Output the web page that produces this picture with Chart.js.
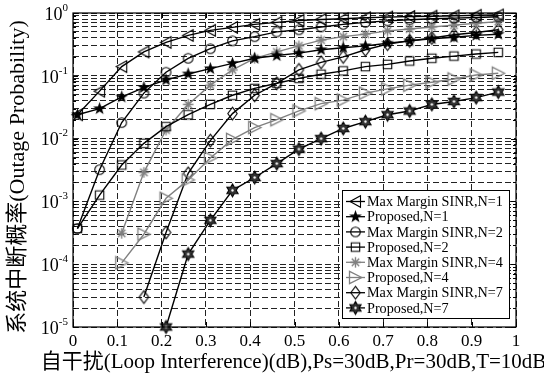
<!DOCTYPE html>
<html>
<head>
<meta charset="utf-8">
<script src="https://cdn.jsdelivr.net/npm/chart.js"></script>
<style>
  html, body { margin: 0; padding: 0; background: #fff; }
  canvas { display: block; }
</style>
</head>
<body>
<canvas id="myChart" width="544" height="377"></canvas>
<script>
// x: loop interference (dB)
const loopInterference = [0.01, 0.06, 0.11, 0.16, 0.21, 0.26, 0.31, 0.36, 0.41, 0.46,
                          0.51, 0.56, 0.61, 0.66, 0.71, 0.76, 0.81, 0.86, 0.91, 0.96];

// outage probability (null = no point)
const maxMarginN1 = [0.024, 0.057, 0.14, 0.24, 0.34, 0.44, 0.53, 0.59, 0.66, 0.71,
                     0.76, 0.79, 0.81, 0.84, 0.86, 0.88, 0.89, 0.90, 0.92, 0.93];
const proposedN1  = [0.024, 0.030, 0.046, 0.065, 0.086, 0.107, 0.13, 0.158, 0.19, 0.21,
                     0.23, 0.26, 0.28, 0.30, 0.33, 0.36, 0.39, 0.41, 0.44, 0.46];
const maxMarginN2 = [0.00037, 0.0032, 0.018, 0.053, 0.114, 0.19, 0.27, 0.36, 0.42, 0.50,
                     0.54, 0.60, 0.66, 0.71, 0.75, 0.78, 0.81, 0.83, 0.85, 0.87];
const proposedN2  = [0.00037, 0.00126, 0.0038, 0.0084, 0.0155, 0.024, 0.035, 0.049, 0.063, 0.076,
                     0.091, 0.106, 0.12, 0.14, 0.152, 0.172, 0.19, 0.206, 0.222, 0.236];
const maxMarginN4 = [null, null, 0.00031, 0.0029, 0.0137, 0.035, 0.071, 0.124, 0.19, 0.24,
                     0.30, 0.37, 0.42, 0.46, 0.52, 0.555, 0.60, 0.64, 0.685, 0.73];
const proposedN4  = [null, null, 0.000105, 0.0003, 0.00112, 0.0022, 0.0049, 0.0097, 0.015, 0.020,
                     0.0276, 0.036, 0.041, 0.053, 0.062, 0.071, 0.079, 0.089, 0.103, 0.11];
const maxMarginN7 = [null, null, null, 0.00003, 0.00032, 0.0028, 0.0093, 0.025, 0.049, 0.076,
                     0.124, 0.164, 0.20, 0.26, 0.32, 0.36, 0.40, 0.45, 0.49, 0.54];
const proposedN7  = [null, null, null, null, 0.00001, 0.000145, 0.0005, 0.0015, 0.0024, 0.0040,
                     0.0068, 0.010, 0.0145, 0.0186, 0.024, 0.0275, 0.035, 0.039, 0.045, 0.055];

const seriesNames = ['Max Margin SINR,N=1', 'Proposed,N=1', 'Max Margin SINR,N=2', 'Proposed,N=2',
                     'Max Margin SINR,N=4', 'Proposed,N=4', 'Max Margin SINR,N=7', 'Proposed,N=7'];
const xTicks = [0, 0.1, 0.2, 0.3, 0.4, 0.5, 0.6, 0.7, 0.8, 0.9, 1];
const yDecades = [-5, -4, -3, -2, -1, 0];

const SERIF = "'Liberation Serif', 'Times New Roman', 'Noto Sans CJK SC', serif";
const GRAY = '#808080';

// marker images (matlab style markers)
function marker(kind, color) {
  const c = document.createElement('canvas');
  c.width = 17; c.height = 17;
  const g = c.getContext('2d');
  g.translate(8.5, 8.5);
  g.strokeStyle = color;
  g.fillStyle = color;
  g.lineWidth = 1.1;
  g.beginPath();
  if (kind === 'ltri') {
    g.moveTo(-5.5, 0); g.lineTo(5, -5.8); g.lineTo(5, 5.8); g.closePath(); g.stroke();
  } else if (kind === 'rtri') {
    g.lineWidth = 1.3;
    g.moveTo(6.3, 0); g.lineTo(-6, -6.2); g.lineTo(-6, 6.2); g.closePath(); g.stroke();
  } else if (kind === 'star') {
    for (let i = 0; i < 10; i++) {
      const r = i % 2 ? 2.7 : 6.8;
      const a = -Math.PI / 2 + i * Math.PI / 5;
      g.lineTo(r * Math.cos(a), r * Math.sin(a));
    }
    g.closePath(); g.fill();
  } else if (kind === 'circle') {
    g.arc(0, 0, 4.8, 0, Math.PI * 2); g.stroke();
  } else if (kind === 'square') {
    g.rect(-4.2, -4.2, 8.4, 8.4); g.stroke();
  } else if (kind === 'asterisk') {
    g.lineWidth = 1.4;
    g.moveTo(-5.2, 0); g.lineTo(5.2, 0); g.moveTo(0, -5.2); g.lineTo(0, 5.2);
    g.moveTo(-3.7, -3.7); g.lineTo(3.7, 3.7); g.moveTo(-3.7, 3.7); g.lineTo(3.7, -3.7);
    g.stroke();
  } else if (kind === 'diamond') {
    g.moveTo(0, -6.3); g.lineTo(4.7, 0); g.lineTo(0, 6.3); g.lineTo(-4.7, 0); g.closePath(); g.stroke();
  } else if (kind === 'hexagram') {
    for (let i = 0; i < 12; i++) {
      const r = i % 2 ? 3.7 : 6.5;
      const a = -Math.PI / 2 + i * Math.PI / 6;
      g.lineTo(r * Math.cos(a), r * Math.sin(a));
    }
    g.closePath(); g.fillStyle = '#333'; g.fill(); g.stroke();
    g.beginPath(); g.fillStyle = '#fff'; g.arc(0, 0, 1.2, 0, Math.PI * 2); g.fill();
  }
  return c;
}

const seriesValues = [maxMarginN1, proposedN1, maxMarginN2, proposedN2, maxMarginN4, proposedN4, maxMarginN7, proposedN7];
const seriesColors = ['#000', '#000', '#000', '#000', GRAY, GRAY, '#000', '#000'];
const seriesMarkers = ['ltri', 'star', 'circle', 'square', 'asterisk', 'rtri', 'diamond', 'hexagram']
  .map((k, i) => marker(k, seriesColors[i]));

const datasets = seriesValues.map((vals, i) => ({
  label: seriesNames[i],
  data: loopInterference.map((x, j) => ({ x: x, y: vals[j] })).filter(p => p.y !== null),
  borderColor: seriesColors[i],
  borderWidth: 1.4,
  pointStyle: seriesMarkers[i],
  pointRadius: 6,
  tension: 0,
  clip: false
}));

// white background, frame, inner ticks, y labels, titles, legend
const decor = {
  id: 'decor',
  beforeDraw(chart) {
    const c = chart.ctx;
    c.save(); c.fillStyle = '#fff'; c.fillRect(0, 0, chart.width, chart.height); c.restore();
  },
  afterDraw(chart) {
    const c = chart.ctx;
    const a = chart.chartArea;
    const xs = chart.scales.x, ys = chart.scales.y;
    c.save();
    c.strokeStyle = '#000';
    c.lineWidth = 1;
    c.setLineDash([]);
    c.beginPath();
    xTicks.forEach(v => {
      const px = Math.round(xs.getPixelForValue(v)) + 0.5;
      c.moveTo(px, a.bottom); c.lineTo(px, a.bottom - 5);
      c.moveTo(px, a.top); c.lineTo(px, a.top + 5);
    });
    ys.ticks.forEach(t => {
      const py = Math.round(ys.getPixelForValue(t.value)) + 0.5;
      const len = Math.abs(Math.log10(t.value) % 1) < 1e-6 ? 5 : 3;
      c.moveTo(a.left, py); c.lineTo(a.left + len, py);
      c.moveTo(a.right, py); c.lineTo(a.right - len, py);
    });
    c.stroke();
    c.lineWidth = 1.2;
    c.strokeRect(a.left, a.top, a.right - a.left, a.bottom - a.top);

    // y tick labels 10^n
    c.fillStyle = '#000';
    c.textBaseline = 'middle';
    yDecades.forEach(e => {
      const py = ys.getPixelForValue(Math.pow(10, e));
      const ex = e < 0 ? '-' + (-e) : String(e);
      c.font = '11px ' + SERIF;
      const ew = c.measureText(ex).width;
      c.textAlign = 'left';
      c.fillText(ex, 68 - ew, py - 5);
      c.font = '18px ' + SERIF;
      c.textAlign = 'right';
      c.fillText('10', 68 - ew, py + 2);
    });

    // axis titles
    c.font = '21px ' + SERIF;
    c.textAlign = 'center';
    c.fillText('自干扰(Loop Interference)(dB),Ps=30dB,Pr=30dB,T=10dB', (a.left + a.right) / 2 - 1, 362);
    c.save();
    c.font = '22px ' + SERIF;
    c.translate(18, 177);
    c.rotate(-Math.PI / 2);
    c.fillText('系统中断概率(Outage Probability)', 0, 0);
    c.restore();

    // legend
    const lx = 342, ly = 190, lw = 167, lh = 128;
    c.fillStyle = '#fff';
    c.fillRect(lx, ly, lw, lh);
    c.lineWidth = 1;
    c.strokeRect(lx + 0.5, ly + 0.5, lw, lh);
    c.font = '14.2px ' + SERIF;
    c.textAlign = 'left';
    seriesNames.forEach((name, i) => {
      const y = ly + 11.5 + i * 15.2;
      c.strokeStyle = seriesColors[i];
      c.lineWidth = 1.3;
      c.beginPath(); c.moveTo(lx + 4, y); c.lineTo(lx + 23, y); c.stroke();
      const m = seriesMarkers[i];
      c.drawImage(m, lx + 13.5 - m.width / 2, y - m.height / 2);
      c.fillStyle = '#000';
      c.fillText(name, lx + 25, y + 1);
    });
    c.restore();
  }
};

const ctx = document.getElementById('myChart').getContext('2d');
const myChart = new Chart(ctx, {
  type: 'line',
  data: { datasets: datasets },
  options: {
    responsive: false,
    animation: false,
    devicePixelRatio: 1,
    layout: { padding: { top: 13, right: 28, left: 0, bottom: 0 } },
    plugins: { legend: { display: false }, tooltip: { enabled: false } },
    scales: {
      x: {
        type: 'linear',
        min: 0,
        max: 1,
        afterFit: s => { s.height = 50; },
        afterBuildTicks: s => { s.ticks = xTicks.map(v => ({ value: v })); },
        grid: { color: '#222', lineWidth: 1, drawTicks: false },
        border: { display: false, dash: [6, 3] },
        ticks: {
          autoSkip: false,
          maxRotation: 0,
          padding: 4,
          color: '#000',
          font: { family: SERIF, size: 17 },
          callback: v => String(Math.round(v * 10) / 10)
        }
      },
      y: {
        type: 'logarithmic',
        min: 1e-5,
        max: 1,
        afterFit: s => { s.width = 73; },
        afterBuildTicks: s => {
          const t = [];
          yDecades.slice(0, -1).forEach(e => {
            for (let m = 1; m <= 9; m++) t.push({ value: m * Math.pow(10, e) });
          });
          t.push({ value: 1 });
          s.ticks = t;
        },
        grid: { color: '#222', lineWidth: 1, drawTicks: false },
        border: { display: false, dash: [6, 3] },
        ticks: { display: false }
      }
    }
  },
  plugins: [decor]
});
</script>
</body>
</html>
